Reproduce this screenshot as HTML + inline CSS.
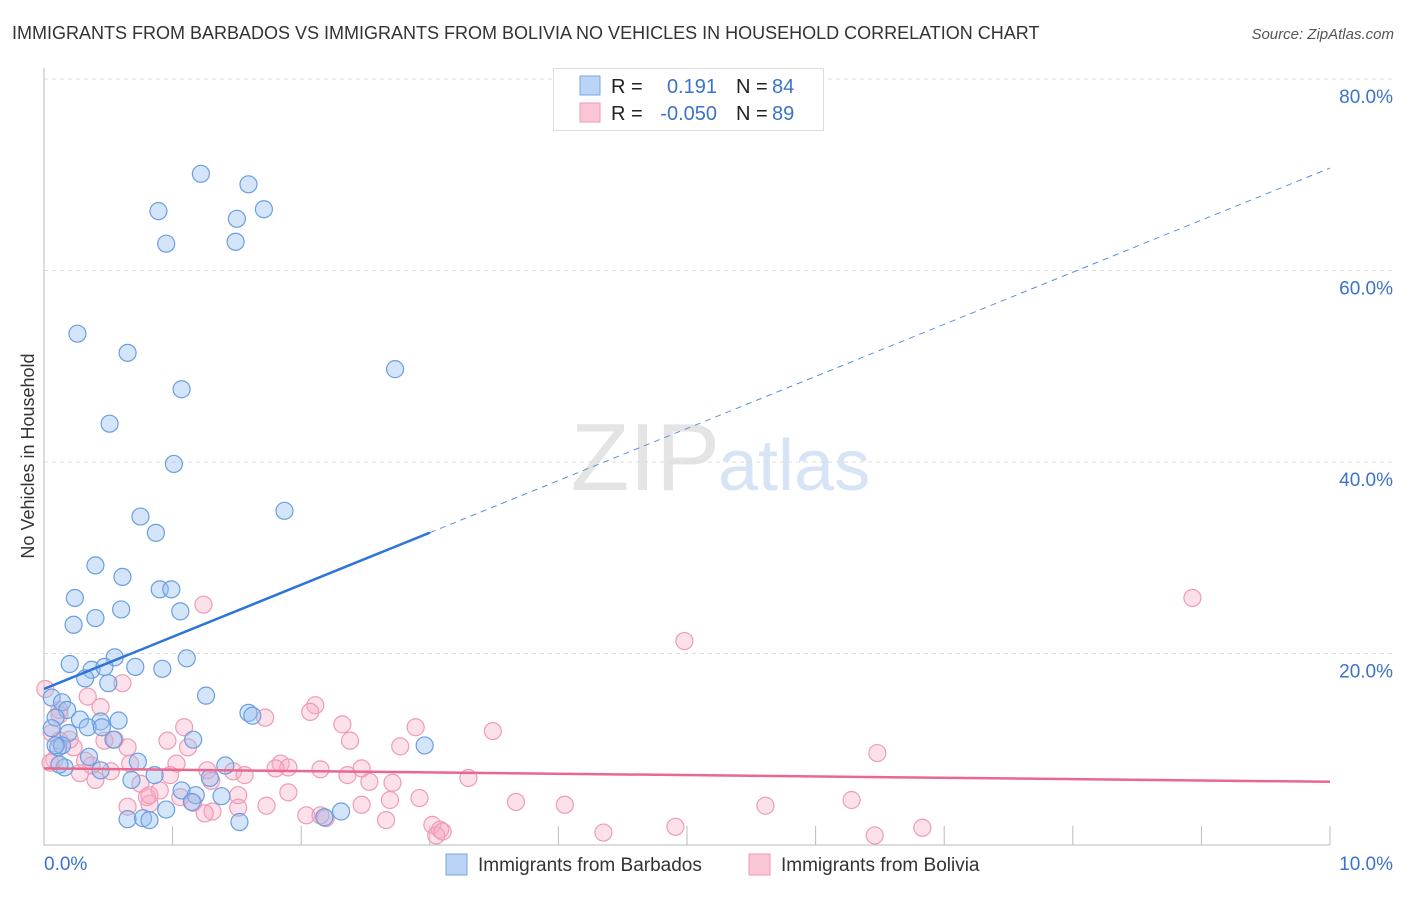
<!DOCTYPE html>
<html><head><meta charset="utf-8"><style>
body{margin:0;background:#fff;font-family:"Liberation Sans",sans-serif;}
svg text{font-family:"Liberation Sans",sans-serif;}
</style></head><body>
<svg id="c" width="1406" height="892" xmlns="http://www.w3.org/2000/svg">
<text x="12" y="39" font-size="18" fill="#333">IMMIGRANTS FROM BARBADOS VS IMMIGRANTS FROM BOLIVIA NO VEHICLES IN HOUSEHOLD CORRELATION CHART</text>
<text x="1394" y="39" font-size="15" fill="#555" font-style="italic" text-anchor="end">Source: ZipAtlas.com</text>
<text x="720" y="490" font-size="96" fill="#e4e4e4" text-anchor="end" font-family="Liberation Serif">ZIP</text>
<text x="718" y="490" font-size="72" fill="#d6e4f5">atlas</text>
<text transform="translate(34,456) rotate(-90)" font-size="18" fill="#333" text-anchor="middle">No Vehicles in Household</text>
<g id="grid"></g><g id="pts"></g><g id="lines"></g>
<g>
<rect x="553.5" y="68.5" width="270" height="62" fill="#fff" stroke="#ddd"/>
<rect x="580" y="76" width="20" height="19" fill="#b9d4f5" stroke="#7aa6e0"/>
<rect x="580" y="103" width="20" height="19" fill="#fac6d6" stroke="#ee9ab3"/>
<text x="611" y="93" font-size="20" fill="#222">R =</text>
<text x="717" y="93" font-size="20" fill="#3a73c9" text-anchor="end">0.191</text>
<text x="736" y="93" font-size="20" fill="#222">N =</text><text x="772" y="93" font-size="20" fill="#3a73c9">84</text>
<text x="611" y="120" font-size="20" fill="#222">R =</text>
<text x="717" y="120" font-size="20" fill="#3a73c9" text-anchor="end">-0.050</text>
<text x="736" y="120" font-size="20" fill="#222">N =</text><text x="772" y="120" font-size="20" fill="#3a73c9">89</text>
</g>
<g>
<rect x="446" y="854" width="21" height="21" fill="#b9d4f5" stroke="#7aa6e0"/>
<text x="478" y="871" font-size="19" fill="#333">Immigrants from Barbados</text>
<rect x="749" y="854" width="21" height="21" fill="#fac6d6" stroke="#ee9ab3"/>
<text x="781" y="871" font-size="19" fill="#333">Immigrants from Bolivia</text>
</g>
</svg>
<script>
const yTicks=[20,40,60,80];
const xTickLabels=["0.0%","10.0%"];
const barbadosX=[1.22,1.59,0.89,1.71,1.50,0.95,1.49,0.26,0.65,2.73,1.07,0.51,1.01,1.87,0.75,0.87,0.40,0.61,0.24,0.90,0.99,0.60,0.23,0.40,1.06,0.20,0.55,1.11,0.37,0.47,0.71,0.92,0.32,0.50,1.26,0.06,0.14,0.18,0.09,0.28,0.44,0.58,1.59,1.62,0.34,0.45,0.19,0.06,0.54,1.16,0.11,0.35,0.73,1.41,0.44,0.16,0.14,0.86,0.68,1.29,1.07,1.18,1.38,1.15,0.95,0.65,0.77,0.82,1.52,2.18,2.31,2.96,0.09,0.12];
const barbadosY=[70.1,69.0,66.2,66.4,65.4,62.8,63.0,53.4,51.4,49.7,47.6,44.0,39.8,34.9,34.3,32.6,29.2,28.0,25.8,26.7,26.7,24.6,23.0,23.7,24.4,18.9,19.6,19.5,18.3,18.6,18.6,18.4,17.4,16.9,15.6,15.4,14.9,14.1,13.3,13.1,12.9,13.0,13.8,13.5,12.3,12.3,11.7,12.2,11.0,11.0,10.2,9.2,8.7,8.3,7.8,8.1,10.4,7.3,6.8,7.0,5.7,5.2,5.1,4.5,3.7,2.7,2.8,2.6,2.4,2.9,3.5,10.4,10.4,8.4];
const boliviaX=[8.93,4.98,1.24,0.61,0.34,0.44,2.11,2.07,1.72,1.09,2.32,2.89,3.49,0.96,2.38,1.12,2.77,6.48,0.06,0.12,0.23,0.47,0.65,1.84,1.90,2.15,2.47,3.30,0.37,0.52,0.67,1.03,1.27,1.47,1.56,1.80,2.36,2.53,2.71,0.08,0.28,0.40,0.75,0.90,1.06,1.30,1.51,1.90,2.92,3.67,4.05,5.61,6.28,0.65,0.82,1.16,1.31,1.51,1.73,2.04,2.19,2.47,2.66,3.02,3.08,4.35,4.91,6.46,6.83,0.12,0.01,0.20,0.05,0.32,0.80,0.98,2.69,0.82,1.25,0.12,0.55,2.15,3.05,3.10];
const boliviaY=[25.8,21.3,25.1,16.9,15.5,14.4,14.6,13.9,13.3,12.3,12.6,12.3,11.9,10.9,10.9,10.2,10.3,9.6,11.7,10.9,10.2,10.9,10.2,8.5,8.1,7.9,8.0,7.0,8.3,7.7,8.5,8.5,7.8,7.7,7.3,8.0,7.3,6.6,6.5,8.9,7.5,6.8,6.4,5.7,5.0,6.7,5.2,5.5,4.9,4.5,4.2,4.1,4.7,4.0,4.3,4.4,3.5,3.9,4.1,3.1,2.8,4.2,2.6,2.1,1.6,1.3,1.9,1.0,1.8,13.6,16.3,11.0,8.6,8.8,5.0,7.3,4.7,5.2,3.3,14.1,11.0,3.1,1.0,1.4];
const blueTrend=[16.3,70.7]; // value at x=0 and x=10
const pinkTrend=[8.0,6.6];
const X=v=>44+v*128.6, Y=v=>845-v*9.575;
const NS="http://www.w3.org/2000/svg";
function mk(tag,attrs,parent){const e=document.createElementNS(NS,tag);for(const k in attrs)e.setAttribute(k,attrs[k]);parent.appendChild(e);return e;}
const grid=document.getElementById('grid');
yTicks.forEach(t=>{
 const l=mk('line',{x1:44,x2:1394,y1:Y(t),y2:Y(t),stroke:'#ddd','stroke-dasharray':'4,4'},grid);
 
 
 const tx=mk('text',{x:1393,y:Y(t)+24,'font-size':19,fill:'#3a73c9','text-anchor':'end'},grid);
 tx.textContent=t.toFixed(1)+'%';
 
 
});
const ax=mk('path',{d:'M44,68V845H1330',stroke:'#bbb',fill:'none'},grid);


for(let i=1;i<=10;i++){const t=mk('line',{x1:X(i),x2:X(i),y1:826,y2:845,stroke:'#bbb'},grid);
 
 }
const xl0=mk('text',{x:44,y:870,'font-size':19,fill:'#3a73c9'},grid);xl0.textContent=xTickLabels[0];


const xl1=mk('text',{x:1393,y:870,'font-size':19,fill:'#3a73c9','text-anchor':'end'},grid);xl1.textContent=xTickLabels[1];


const pts=document.getElementById('pts');
boliviaX.forEach((x,i)=>{const c=mk('circle',{cx:X(x),cy:Y(boliviaY[i]),r:8.5,fill:'rgba(246,170,195,0.35)',stroke:'#ef9bb5','stroke-width':1.2},pts);
 
 });
barbadosX.forEach((x,i)=>{const c=mk('circle',{cx:X(x),cy:Y(barbadosY[i]),r:8.5,fill:'rgba(150,190,240,0.4)',stroke:'#6a9ee0','stroke-width':1.2},pts);
 
 });
const lines=document.getElementById('lines');
const bAt=x=>blueTrend[0]+(blueTrend[1]-blueTrend[0])*x/10;
const b1=mk('line',{x1:X(0),y1:Y(bAt(0)),x2:X(3),y2:Y(bAt(3)),stroke:'#2f74d8','stroke-width':2.5},lines);


const b2=mk('line',{x1:X(3),y1:Y(bAt(3)),x2:X(10),y2:Y(bAt(10)),stroke:'#5a90dc','stroke-width':1,'stroke-dasharray':'6,5'},lines);


const p1=mk('line',{x1:X(0),y1:Y(pinkTrend[0]),x2:X(10),y2:Y(pinkTrend[1]),stroke:'#e8688f','stroke-width':2.5},lines);


</script>
</body></html>
